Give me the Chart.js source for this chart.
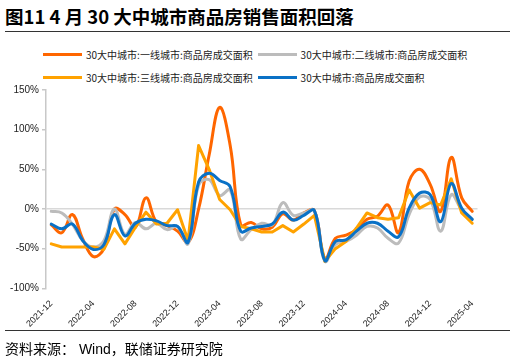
<!DOCTYPE html>
<html>
<head>
<meta charset="utf-8">
<script src="https://cdn.jsdelivr.net/npm/chart.js@4"></script>
<style>
  body { margin: 0; width: 515px; height: 361px; background: #fff; position: relative; overflow: hidden; }
  #title { position: absolute; left: 5px; top: 3px; font: bold 18.5px "Noto Sans CJK SC", sans-serif; color: #000; white-space: nowrap; }
  .rule { position: absolute; left: 5px; width: 505px; height: 1px; background: #333; }
  #legend { position: absolute; left: 43px; top: 43px; display: grid; grid-template-columns: 214.6px 214.6px; grid-auto-rows: 23.3px; }
  #legend .item { display: flex; align-items: center; font: 10px "Noto Sans CJK SC", sans-serif; color: #222; white-space: nowrap; }
  #legend .swatch { display: inline-block; width: 39px; height: 3px; margin-right: 4px; }
  #wrap { position: absolute; left: 0; top: 80px; width: 515px; height: 252px; }
  #source { position: absolute; left: 5px; top: 338px; font: 14px "Liberation Sans", "Noto Sans CJK SC", sans-serif; color: #000; white-space: nowrap; }
</style>
</head>
<body>
<div id="title">图11 4 月 30 大中城市商品房销售面积回落</div>
<div class="rule" style="top:31px"></div>
<div id="legend"></div>
<div id="wrap"><canvas id="chart" width="515" height="252"></canvas></div>
<div class="rule" style="top:330px"></div>
<div id="source">资料来源： Wind，联储证券研究院</div>
<script>
// months 2021-12 .. 2025-04
const months = [
    '2021-12', '2022-01', '2022-02', '2022-03', '2022-04', '2022-05', '2022-06', '2022-07',
    '2022-08', '2022-09', '2022-10', '2022-11', '2022-12', '2023-01', '2023-02', '2023-03',
    '2023-04', '2023-05', '2023-06', '2023-07', '2023-08', '2023-09', '2023-10', '2023-11',
    '2023-12', '2024-01', '2024-02', '2024-03', '2024-04', '2024-05', '2024-06', '2024-07',
    '2024-08', '2024-09', '2024-10', '2024-11', '2024-12', '2025-01', '2025-02', '2025-03',
    '2025-04'
];

// YoY change, %
const tier1 = [
    -20, -30, -7, -38, -60, -50, 0, -7, -23, 14, -17, -21, -28, -42, 0, 68,
    128, 80, -20, -17, -25, -23, -6, -14, -5, -2, -63, -37, -33, -26, -13, -9,
    5, -30, 35, 50, 31, -3, 65, 14, -3
];
const tier2 = [
    -3, -5, -19, -40, -48, -40, 0, -32, -17, -25, -18, -26, -22, -44, 30, 37,
    17, 24, -38, -26, -18, -20, 8, -8, -5, -2, -66, -45, -41, -33, -22, -24,
    -37, -43, -7, 15, 12, -28, 18, -1, -13
];
const tier3 = [
    -44, -48, -48, -48, -48, -51, -25, -44, -23, -4, -19, -18, -1, -40, 80, 50,
    12, -1, -22, -25, -29, -29, -21, -29, -19, -8, -66, -50, -41, -24, -5, -11,
    -13, -11, 24, 1, 8, 5, 38, -5, -18
];
const total30 = [
    -19, -25, -19, -40, -51, -45, -7, -34, -18, -13, -15, -21, -22, -42, 34, 45,
    36, 28, -28, -24, -22, -19, -4, -14, -8, -2, -65, -41, -39, -28, -18, -18,
    -28, -35, 1, 20, 18, -16, 32, 1, -13
];

const yTicks = [-100, -50, 0, 50, 100, 150];

const canvas = document.getElementById('chart');
const chart = new Chart(canvas.getContext('2d'), {
    type: 'line',
    data: {
        labels: months,
        datasets: [
            { label: '30大中城市:一线城市:商品房成交面积', data: tier1, borderColor: '#FF6600', tension: 0.4, order: 4 },
            { label: '30大中城市:二线城市:商品房成交面积', data: tier2, borderColor: '#BCBCBC', tension: 0.4, order: 3 },
            { label: '30大中城市:三线城市:商品房成交面积', data: tier3, borderColor: '#FFA200', tension: 0, order: 2 },
            { label: '30大中城市:商品房成交面积', data: total30, borderColor: '#0A71C6', tension: 0.4, order: 1 }
        ]
    },
    options: {
        responsive: false,
        animation: false,
        layout: { padding: { top: 10, right: 37.5, left: 0, bottom: 0 } },
        elements: {
            point: { radius: 0 },
            line: { borderWidth: 3, borderCapStyle: 'round', borderJoinStyle: 'round' }
        },
        plugins: {
            legend: { display: false },
            tooltip: { enabled: false }
        },
        scales: {
            x: {
                offset: true,
                grid: { display: false },
                border: { display: false },
                ticks: {
                    autoSkip: false,
                    minRotation: 45,
                    maxRotation: 45,
                    padding: 2,
                    color: '#222',
                    font: { size: 9, family: 'Liberation Sans' },
                    callback: function (val, i) {
                        return i % 4 === 0 ? this.getLabelForValue(val) : '';
                    }
                },
                afterFit: axis => { axis.height = 43.7; }
            },
            y: {
                min: yTicks[0],
                max: yTicks[yTicks.length - 1],
                afterBuildTicks: axis => { axis.ticks = yTicks.map(v => ({ value: v })); },
                ticks: {
                    padding: 3,
                    color: '#222',
                    font: { size: 10, family: 'Liberation Sans' },
                    callback: v => v + '%'
                },
                grid: {
                    color: c => (c.tick && c.tick.value === 0) ? '#D9D9D9' : 'rgba(0,0,0,0)',
                    tickColor: '#C8C8C8',
                    tickLength: 4,
                    lineWidth: 1.5
                },
                border: { color: '#C8C8C8', width: 1.5 },
                afterFit: axis => { axis.width = 46; }
            }
        }
    }
});

// legend in two columns, like the source figure
const legendBox = document.getElementById('legend');
chart.data.datasets.forEach(ds => {
    const item = document.createElement('div');
    item.className = 'item';
    const swatch = document.createElement('span');
    swatch.className = 'swatch';
    swatch.style.background = ds.borderColor;
    const text = document.createElement('span');
    text.textContent = ds.label;
    item.appendChild(swatch);
    item.appendChild(text);
    legendBox.appendChild(item);
});
</script>
</body>
</html>
